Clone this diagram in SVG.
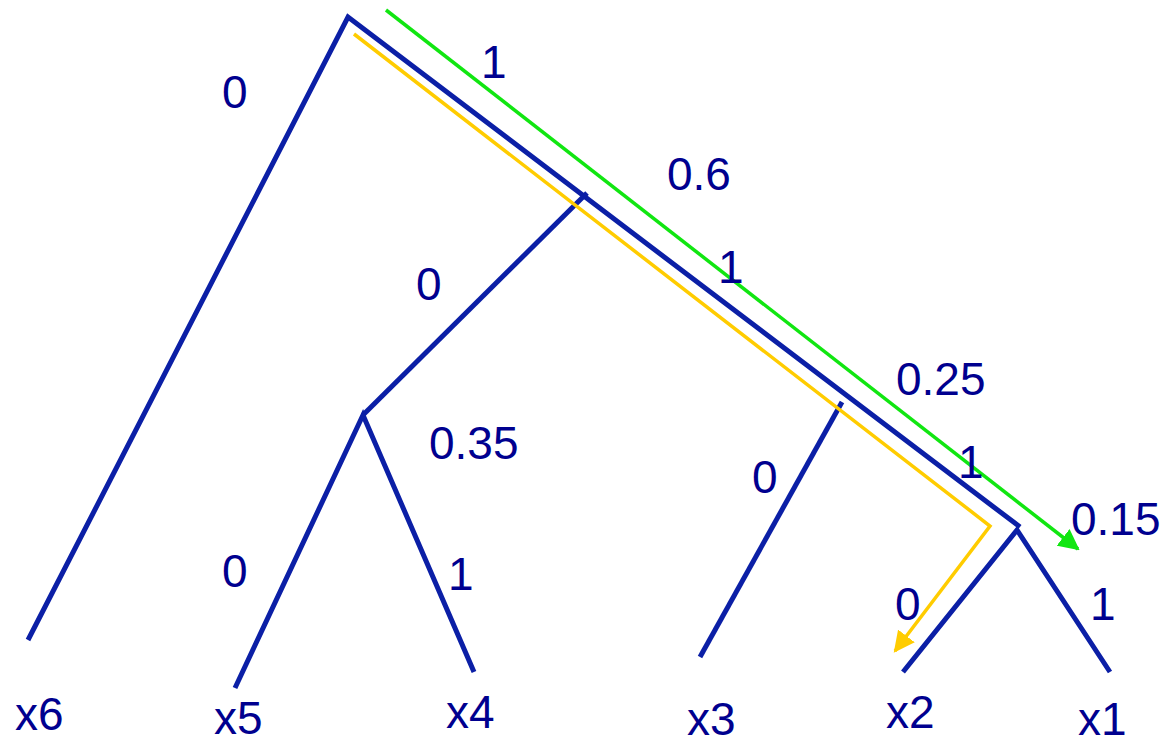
<svg xmlns="http://www.w3.org/2000/svg" width="1169" height="739" viewBox="0 0 1169 739">
<style>
.e{stroke:#0b1fa6;stroke-width:5;fill:none;stroke-linecap:butt}
.t{font-family:"Liberation Sans",Arial,sans-serif;font-size:46px;fill:#00008f}
.y{stroke:#ffcc00;stroke-width:3.5;fill:none}
.g{stroke:#11e611;stroke-width:3.5;fill:none}
</style>
<defs>
<marker id="ay" viewBox="0 0 10 10" refX="9" refY="5" markerWidth="6" markerHeight="6" orient="auto" markerUnits="strokeWidth"><path d="M0,0L10,5L0,10z" fill="#ffcc00"/></marker>
<marker id="ag" viewBox="0 0 10 10" refX="9" refY="5" markerWidth="6" markerHeight="6" orient="auto" markerUnits="strokeWidth"><path d="M0,0L10,5L0,10z" fill="#11e611"/></marker>
</defs>
<g id="connectors">
<polyline class="e" points="28,640 348,17 1020,527"/>
<line class="e" x1="587" y1="193" x2="363" y2="415"/>
<polyline class="e" points="235,688 363,415 474,672"/>
<line class="e" x1="842" y1="402" x2="700" y2="657"/>
<polyline class="e" points="903,672 1017,530 1110,672"/>
<polyline class="y" points="354,34 990,526 895,651" marker-end="url(#ay)"/>
<line class="g" x1="386" y1="10" x2="1078" y2="549" marker-end="url(#ag)"/>
</g>
<g id="labels">
<text class="t" x="481" y="78">1</text>
<text class="t" x="222" y="108">0</text>
<text class="t" x="667" y="190">0.6</text>
<text class="t" x="718" y="283">1</text>
<text class="t" x="416" y="300">0</text>
<text class="t" x="896" y="395">0.25</text>
<text class="t" x="429" y="459">0.35</text>
<text class="t" x="958" y="478">1</text>
<text class="t" x="752" y="493">0</text>
<text class="t" x="1071" y="535">0.15</text>
<text class="t" x="222" y="587">0</text>
<text class="t" x="448" y="590">1</text>
<text class="t" x="895" y="620">0</text>
<text class="t" x="1090" y="620">1</text>
</g>
<g id="x6"><text class="t" x="15" y="730">x6</text></g>
<g id="x5"><text class="t" x="214" y="734">x5</text></g>
<g id="x4"><text class="t" x="446" y="728">x4</text></g>
<g id="x3"><text class="t" x="687" y="735">x3</text></g>
<g id="x2"><text class="t" x="886" y="728">x2</text></g>
<g id="x1"><text class="t" x="1078" y="735">x1</text></g>
</svg>
